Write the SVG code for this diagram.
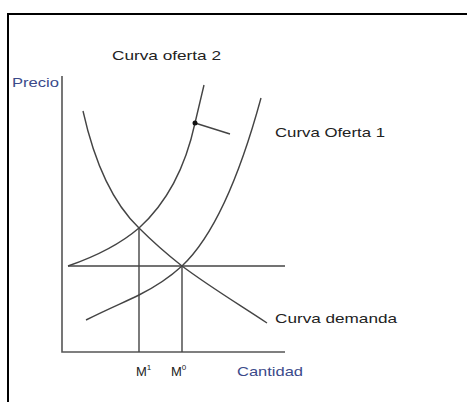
<svg xmlns="http://www.w3.org/2000/svg" width="467" height="402" viewBox="0 0 467 402">
<style>
.ln{fill:none;stroke:#444;stroke-width:1.4}
.ax{fill:none;stroke:#555;stroke-width:1.6}
.lbl{font-family:"Liberation Sans",Arial,sans-serif;font-size:13px;fill:#222}
.axl{font-family:"Liberation Sans",Arial,sans-serif;font-size:13px;fill:#3b4a8a}
</style>
<rect width="467" height="402" fill="#fff"/>
<path d="M8,402 V14 H467" fill="none" stroke="#000" stroke-width="2"/>
<g id="axes">
<path class="ax" d="M62,76 V352 H285"/>
</g>
<g id="connectors">
<path class="ln" d="M68,266 H285"/>
<path class="ln" d="M139,228 V352"/>
<path class="ln" d="M182,266 V352"/>
<path class="ln" d="M195,123 L230,134"/>
</g>
<g id="demanda">
<path class="ln" d="M83,111 C95,165 115,205 139,228 C155,244 168,255 182,266 C210,287 240,305 267,323"/>
<text class="lbl" x="275" y="323" textLength="122" lengthAdjust="spacingAndGlyphs">Curva demanda</text>
</g>
<g id="oferta2">
<path class="ln" d="M68,266 C100,255 125,240 139,228 C170,200 187,160 195,123 L204,85"/>
<circle cx="195" cy="123" r="2.5" fill="#111"/>
<text class="lbl" x="112" y="60" textLength="109" lengthAdjust="spacingAndGlyphs">Curva oferta 2</text>
</g>
<g id="oferta1">
<path class="ln" d="M86,320 C110,308 125,302 139,295 C155,287 170,277 182,266 C215,235 240,175 261,98"/>
<text class="lbl" x="275" y="137" textLength="110" lengthAdjust="spacingAndGlyphs">Curva Oferta 1</text>
</g>
<g id="labels">
<text class="axl" x="12" y="87" textLength="47" lengthAdjust="spacingAndGlyphs">Precio</text>
<text class="axl" x="237" y="376" textLength="66" lengthAdjust="spacingAndGlyphs">Cantidad</text>
<text class="lbl" x="136" y="376">M<tspan font-size="8" dy="-6">1</tspan></text>
<text class="lbl" x="171" y="376">M<tspan font-size="8" dy="-6">0</tspan></text>
</g>
</svg>
